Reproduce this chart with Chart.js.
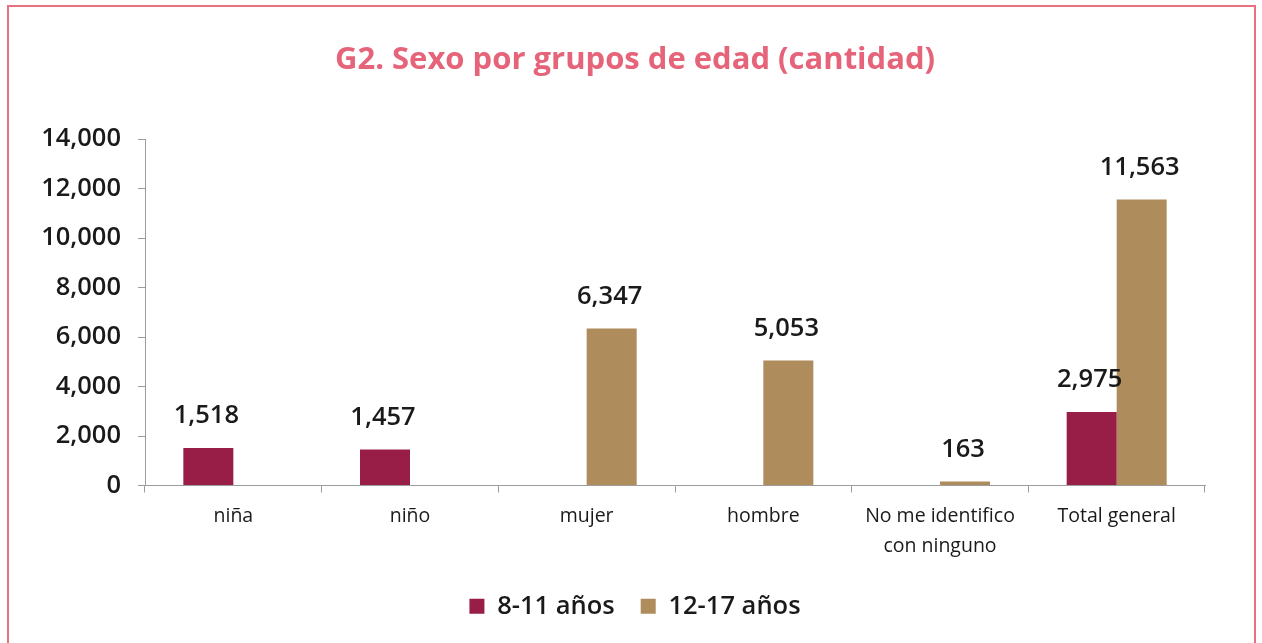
<!DOCTYPE html>
<html>
<head>
<meta charset="utf-8">
<script src="https://cdn.jsdelivr.net/npm/chart.js@4"></script>
<style>
  html, body { margin: 0; padding: 0; background: #fff; }
  #wrap { position: relative; width: 1262px; height: 643px; overflow: hidden; }
  #frame {
    position: absolute; left: 7px; top: 5px; width: 1249px; height: 660px;
    border: 2px solid #E9707F; box-sizing: border-box; pointer-events: none;
  }
  canvas { position: absolute; left: 0; top: 0; }
</style>
</head>
<body>
<div id="wrap">
  <canvas id="sexoChart" width="1262" height="643"></canvas>
  <div id="frame"></div>
</div>
<script>
// categories and values
const categories = ['niña', 'niño', 'mujer', 'hombre', ['No me identifico', 'con ninguno'], 'Total general'];
const seriesNames = ['8-11 años', '12-17 años'];
const ninos8a11 = [1518, 1457, null, null, null, 2975];
const jovenes12a17 = [null, null, 6347, 5053, 163, 11563];
const yTicks = [0, 2000, 4000, 6000, 8000, 10000, 12000, 14000];

const fontFamily = '"Open Sans", "Noto Sans", sans-serif';
const fmt = v => v.toLocaleString('en-US');

// labels over each bar
const valueLabels = {
    id: 'valueLabels',
    afterDatasetsDraw(chart) {
        const ctx = chart.ctx;
        ctx.save();
        ctx.font = '600 25.5px ' + fontFamily;
        ctx.fillStyle = '#1a1a1a';
        ctx.textAlign = 'center';
        ctx.textBaseline = 'middle';
        chart.data.datasets.forEach((ds, di) => {
            const meta = chart.getDatasetMeta(di);
            meta.data.forEach((bar, i) => {
                const v = ds.data[i];
                if (v === null || v === undefined) return;
                ctx.fillText(fmt(v), bar.x - 2, bar.y - 32);
            });
        });
        ctx.restore();
    }
};

new Chart(document.getElementById('sexoChart'), {
    type: 'bar',
    data: {
        labels: categories,
        datasets: [{
            label: seriesNames[0],
            data: ninos8a11,
            backgroundColor: '#981E47'
        },
        {
            label: seriesNames[1],
            data: jovenes12a17,
            backgroundColor: '#AE8C5B'
        }]
    },
    options: {
        responsive: false,
        animation: false,
        devicePixelRatio: 1,
        categoryPercentage: 0.566,
        barPercentage: 1.0,
        layout: {
            padding: { left: 8, right: 0, top: 0, bottom: 14 }
        },
        plugins: {
            title: {
                display: true,
                text: 'G2. Sexo por grupos de edad (cantidad)',
                color: '#E5647A',
                font: { family: fontFamily, size: 31, weight: 'bold' },
                padding: { top: 42, bottom: 60 }
            },
            legend: {
                position: 'bottom',
                labels: {
                    color: '#1a1a1a',
                    font: { family: fontFamily, size: 25.5, weight: '600' },
                    boxWidth: 15,
                    boxHeight: 15,
                    padding: 26
                }
            },
            tooltip: { enabled: false }
        },
        scales: {
            y: {
                min: 0,
                max: 14000,
                afterFit: scale => { scale.width = 137; },
                afterBuildTicks: scale => { scale.ticks = yTicks.map(v => ({ value: v })); },
                ticks: {
                    color: '#1a1a1a',
                    padding: 17,
                    font: { family: fontFamily, size: 25.5, weight: '600' },
                    callback: v => fmt(v)
                },
                grid: { drawOnChartArea: false, tickLength: 7, color: '#9c9c9c' },
                border: { color: '#9c9c9c' }
            },
            // empty right axis, only keeps space on the right side
            yRight: {
                position: 'right',
                display: true,
                afterFit: scale => { scale.width = 57; },
                ticks: { display: false },
                grid: { display: false },
                border: { display: false }
            },
            x: {
                afterFit: scale => { scale.height = 82; },
                ticks: {
                    color: '#1a1a1a',
                    padding: 9,
                    maxRotation: 0,
                    font: { family: fontFamily, size: 19.5, lineHeight: 1.55 }
                },
                grid: { drawOnChartArea: false, tickLength: 7, color: '#9c9c9c', offset: true },
                border: { color: '#9c9c9c' }
            }
        }
    },
    plugins: [valueLabels]
});
</script>
</body>
</html>
